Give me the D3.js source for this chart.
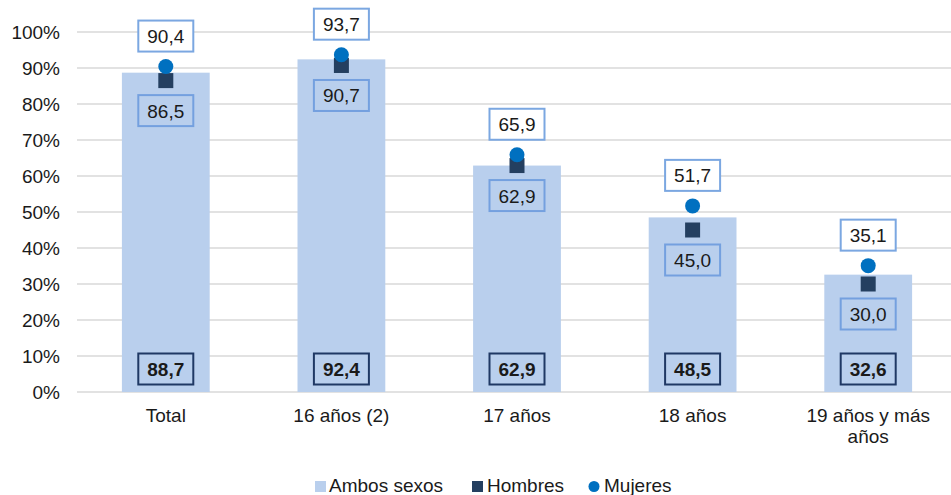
<!DOCTYPE html>
<html>
<head>
<meta charset="utf-8">
<script src="https://cdn.jsdelivr.net/npm/d3@7"></script>
<style>
  body { margin: 0; background: #fff; }
  svg { display: block; font-family: "Liberation Sans", Arial, sans-serif; }
</style>
</head>
<body>
<svg id="chart" width="951" height="495"></svg>
<script>
// data
var categories = ["Total", "16 años (2)", "17 años", "18 años", "19 años y más años"]
var ambos = [88.7, 92.4, 62.9, 48.5, 32.6]
var hombres = [86.5, 90.7, 62.9, 45.0, 30.0]
var mujeres = [90.4, 93.7, 65.9, 51.7, 35.1]
var yTicks = [0, 10, 20, 30, 40, 50, 60, 70, 80, 90, 100]

var svg = d3.select("#chart")
var fs = 19
var fmt = function(v) { return d3.format(".1f")(v).replace(".", ",") }

var x = d3.scaleBand().domain(categories).range([78, 956]).paddingInner(0.5).paddingOuter(0.25)
var y = d3.scaleLinear().domain([0, 100]).range([392, 32])

// grid
svg.append("g").selectAll("line")
  .data(yTicks)
  .join("line")
  .attr("x1", 77).attr("x2", 951)
  .attr("y1", function(d) { return y(d) }).attr("y2", function(d) { return y(d) })
  .attr("stroke", "#d9d9d9").attr("stroke-width", 1.5)

// y labels
svg.append("g").selectAll("text")
  .data(yTicks)
  .join("text")
  .attr("x", 60).attr("y", function(d) { return y(d) + 7 })
  .attr("text-anchor", "end")
  .attr("font-size", fs).attr("fill", "#1a1a1a")
  .text(function(d) { return d + "%" })

// bars
svg.append("g").selectAll("rect")
  .data(ambos)
  .join("rect")
  .attr("x", function(d, i) { return x(categories[i]) })
  .attr("width", x.bandwidth())
  .attr("y", function(d) { return y(d) })
  .attr("height", function(d) { return y(0) - y(d) })
  .attr("fill", "#b9cfed")

// label boxes
function box(g, cx, cy, txt, stroke, sw, fill, bold) {
  g.append("rect")
    .attr("x", cx - 27.5).attr("y", cy - 15.5)
    .attr("width", 55).attr("height", 31)
    .attr("fill", fill).attr("stroke", stroke).attr("stroke-width", sw)
  g.append("text")
    .attr("x", cx).attr("y", cy + 7)
    .attr("text-anchor", "middle").attr("font-size", fs)
    .attr("font-weight", bold ? "bold" : "normal")
    .attr("fill", "#1a1a1a")
    .text(txt)
}

var labels = svg.append("g")
categories.forEach(function(c, i) {
  var cx = x(c) + x.bandwidth() / 2
  box(labels, cx, 369, fmt(ambos[i]), "#1f3864", 2, "none", true)
  box(labels, cx, y(hombres[i]) + 30, fmt(hombres[i]), "#74a0df", 2, "none", false)
  box(labels, cx, y(mujeres[i]) - 30.5, fmt(mujeres[i]), "#7ba7e1", 2, "#fff", false)
})

// hombres markers
svg.append("g").selectAll("rect")
  .data(hombres)
  .join("rect")
  .attr("x", function(d, i) { return x(categories[i]) + x.bandwidth() / 2 - 7.5 })
  .attr("y", function(d) { return y(d) - 7.5 })
  .attr("width", 15).attr("height", 15)
  .attr("fill", "#243f60")

// mujeres markers
svg.append("g").selectAll("circle")
  .data(mujeres)
  .join("circle")
  .attr("cx", function(d, i) { return x(categories[i]) + x.bandwidth() / 2 })
  .attr("cy", function(d) { return y(d) })
  .attr("r", 7.5)
  .attr("fill", "#0070c0")

// x labels, wrapped
var xl = svg.append("g").selectAll("text")
  .data(categories)
  .join("text")
  .attr("x", function(d) { return x(d) + x.bandwidth() / 2 })
  .attr("y", 422)
  .attr("text-anchor", "middle")
  .attr("font-size", fs).attr("fill", "#1a1a1a")

xl.each(function(d) {
  var t = d3.select(this)
  var cx = +t.attr("x")
  var words = d.split(" ")
  var line = []
  var tspan = t.append("tspan").attr("x", cx).attr("dy", 0)
  words.forEach(function(w) {
    line.push(w)
    tspan.text(line.join(" "))
    if (tspan.node().getComputedTextLength() > 160 && line.length > 1) {
      line.pop()
      tspan.text(line.join(" "))
      line = [w]
      tspan = t.append("tspan").attr("x", cx).attr("dy", 21).text(w)
    }
  })
})

// legend
var leg = svg.append("g").attr("font-size", fs).attr("fill", "#1a1a1a")
leg.append("rect").attr("x", 315).attr("y", 481).attr("width", 11).attr("height", 11).attr("fill", "#b9cfed")
leg.append("text").attr("x", 329).attr("y", 492).text("Ambos sexos")
leg.append("rect").attr("x", 472).attr("y", 481).attr("width", 11).attr("height", 11).attr("fill", "#243f60")
leg.append("text").attr("x", 487).attr("y", 492).text("Hombres")
leg.append("circle").attr("cx", 594).attr("cy", 486.5).attr("r", 5.5).attr("fill", "#0070c0")
leg.append("text").attr("x", 604).attr("y", 492).text("Mujeres")
</script>
</body>
</html>
